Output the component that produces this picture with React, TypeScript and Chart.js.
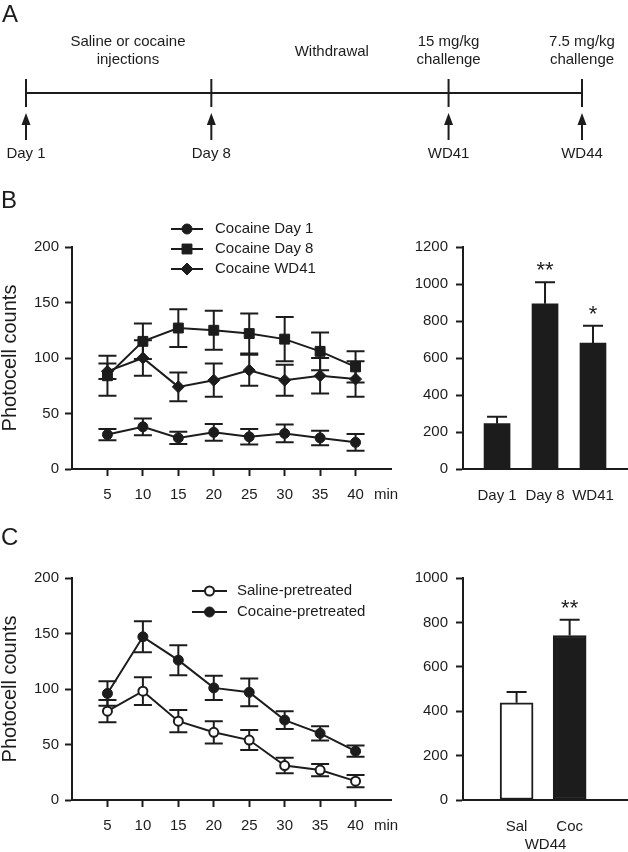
import React, { useEffect, useRef } from 'react';
import { Chart, registerables } from 'chart.js';

Chart.register(...registerables);

const FONT = '"Liberation Sans", Arial, Helvetica, sans-serif';
const INK = '#1c1c1c';
Chart.defaults.font.family = FONT;
Chart.defaults.font.size = 15;
Chart.defaults.color = INK;

// ---------- Panel A: timeline ----------
const timelineEvents = ['Day 1', 'Day 8', 'WD41', 'WD44'];
const timelineSlots = [0, 1, 2.28, 3];
const phaseSlots = [0.55, 1.65, 2.28, 3];
const phaseTexts = [['Saline or cocaine', 'injections'], ['Withdrawal'], ['15 mg/kg', 'challenge'], ['7.5 mg/kg', 'challenge']];

// ---------- Panel B ----------
const minutes = [5, 10, 15, 20, 25, 30, 35, 40];
const bSeriesNames = ['Cocaine Day 1', 'Cocaine Day 8', 'Cocaine WD41'];
const cocaineDay1 = [31, 38, 28, 33, 29, 32, 28, 24];
const cocaineDay1Sem = [5, 7.5, 5.5, 7.5, 7, 8, 6.5, 7.5];
const cocaineDay8 = [84, 115, 127, 125, 122, 117, 106, 92];
const cocaineDay8Sem = [18, 16, 17, 17.5, 18, 20, 17, 14];
const cocaineWD41 = [88, 100, 74, 80, 89, 80, 84, 81];
const cocaineWD41Sem = [7, 16, 13, 15, 14, 14, 16, 16];
const bBarCategories = ['Day 1', 'Day 8', 'WD41'];
const bBarTotals = [245, 893, 681];
const bBarSem = [38, 116, 94];
const bBarSignif = ['', '**', '*'];

// ---------- Panel C ----------
const cSeriesNames = ['Saline-pretreated', 'Cocaine-pretreated'];
const salinePre = [80, 98, 71, 61, 54, 31, 27, 17];
const salinePreSem = [10, 12.5, 10, 10, 9, 7, 5.5, 5.5];
const cocainePre = [96, 147, 126, 101, 97, 72, 60, 44];
const cocainePreSem = [11, 14, 13.5, 11, 12.5, 8, 6.5, 5];
const cBarCategories = ['Sal', 'Coc'];
const cBarTotals = [438, 741];
const cBarSem = [48, 71];
const cBarSignif = ['', '**'];
const cBarGroup = 'WD44';

const yTitle = 'Photocell counts';
const xUnit = 'min';

// ---------- plugins ----------
function drawMarker(ctx: any, style: string, x: number, y: number, r: number, fill: string, bw: number) {
  ctx.save();
  ctx.beginPath();
  if (style === 'rect') {
    const s = r * Math.SQRT1_2;
    ctx.rect(x - s, y - s, 2 * s, 2 * s);
  } else if (style === 'rectRot') {
    ctx.moveTo(x, y - r);
    ctx.lineTo(x + r, y);
    ctx.lineTo(x, y + r);
    ctx.lineTo(x - r, y);
    ctx.closePath();
  } else {
    ctx.arc(x, y, r, 0, Math.PI * 2);
  }
  ctx.fillStyle = fill;
  ctx.fill();
  ctx.lineWidth = bw;
  ctx.strokeStyle = INK;
  ctx.stroke();
  ctx.restore();
}

const errorBars = {
  id: 'errorBars',
  beforeDatasetsDraw(chart: any) {
    const { ctx } = chart;
    chart.data.datasets.forEach((ds: any, di: number) => {
      if (!ds.sem) return;
      const meta = chart.getDatasetMeta(di);
      const ys = chart.scales[meta.yAxisID];
      const half = ds.capHalf ?? 9;
      ctx.save();
      ctx.strokeStyle = INK;
      ctx.lineWidth = 2;
      meta.data.forEach((el: any, i: number) => {
        const v = ds.data[i].y;
        const e = ds.sem[i];
        const yt = ys.getPixelForValue(v + e);
        const yb = ys.getPixelForValue(ds.semUpOnly ? v : v - e);
        const x = el.x;
        ctx.beginPath();
        ctx.moveTo(x, yt);
        ctx.lineTo(x, yb);
        ctx.moveTo(x - half, yt);
        ctx.lineTo(x + half, yt);
        if (!ds.semUpOnly) {
          ctx.moveTo(x - half, yb);
          ctx.lineTo(x + half, yb);
        }
        ctx.stroke();
      });
      ctx.restore();
    });
  },
};

const signifMarks = {
  id: 'signifMarks',
  afterDatasetsDraw(chart: any) {
    const { ctx } = chart;
    chart.data.datasets.forEach((ds: any, di: number) => {
      if (!ds.signif) return;
      const meta = chart.getDatasetMeta(di);
      const ys = chart.scales[meta.yAxisID];
      ctx.save();
      ctx.fillStyle = INK;
      ctx.font = `22px ${FONT}`;
      ctx.textAlign = 'center';
      ctx.textBaseline = 'middle';
      meta.data.forEach((el: any, i: number) => {
        const mark = ds.signif[i];
        if (!mark) return;
        const top = ys.getPixelForValue(ds.data[i].y + ds.sem[i]);
        ctx.fillText(mark, el.x, top - 11);
      });
      ctx.restore();
    });
  },
};

const unitLabel = {
  id: 'unitLabel',
  afterDraw(chart: any, _a: any, opts: any) {
    if (!opts || !opts.text) return;
    const { ctx } = chart;
    const xs = chart.scales.x;
    ctx.save();
    ctx.fillStyle = INK;
    ctx.font = `15px ${FONT}`;
    ctx.textAlign = 'center';
    ctx.textBaseline = 'middle';
    ctx.fillText(opts.text, xs.getPixelForValue(opts.at), xs.top + 26);
    ctx.restore();
  },
};

const miniLegend = {
  id: 'miniLegend',
  afterDraw(chart: any, _a: any, opts: any) {
    if (!opts || opts.dy === undefined) return;
    const { ctx, chartArea } = chart;
    ctx.save();
    chart.data.datasets.forEach((ds: any, i: number) => {
      const y = chartArea.top + opts.dy + i * opts.gap;
      const x1 = chartArea.left + opts.lineFrom;
      const x2 = chartArea.left + opts.lineTo;
      ctx.beginPath();
      ctx.strokeStyle = INK;
      ctx.lineWidth = 2;
      ctx.moveTo(x1, y);
      ctx.lineTo(x2, y);
      ctx.stroke();
      drawMarker(ctx, ds.pointStyle, chartArea.left + opts.marker, y, ds.pointRadius, ds.pointBackgroundColor, ds.pointBorderWidth);
      ctx.fillStyle = INK;
      ctx.font = `15px ${FONT}`;
      ctx.textAlign = 'left';
      ctx.textBaseline = 'middle';
      ctx.fillText(ds.label, chartArea.left + opts.text, y);
    });
    ctx.restore();
  },
};

const timelineDecor = {
  id: 'timelineDecor',
  afterDatasetsDraw(chart: any) {
    const { ctx } = chart;
    const xs = chart.scales.x;
    const y0 = chart.scales.y.getPixelForValue(0);
    const meta = chart.getDatasetMeta(0);
    ctx.save();
    ctx.fillStyle = INK;
    ctx.strokeStyle = INK;
    ctx.lineWidth = 2;
    ctx.font = `15px ${FONT}`;
    ctx.textAlign = 'center';
    ctx.textBaseline = 'middle';
    meta.data.forEach((el: any, i: number) => {
      const x = el.x;
      ctx.beginPath();
      ctx.moveTo(x, y0 + 28);
      ctx.lineTo(x, y0 + 47);
      ctx.stroke();
      ctx.beginPath();
      ctx.moveTo(x, y0 + 20);
      ctx.lineTo(x - 4.5, y0 + 32);
      ctx.lineTo(x + 4.5, y0 + 32);
      ctx.closePath();
      ctx.fill();
      ctx.fillText(timelineEvents[i], x, y0 + 61);
    });
    phaseSlots.forEach((s, i) => {
      const x = xs.getPixelForValue(s);
      const lines = phaseTexts[i];
      if (lines.length === 1) {
        ctx.fillText(lines[0], x, y0 - 41);
      } else {
        lines.forEach((t, k) => ctx.fillText(t, x, y0 - 51 + k * 18));
      }
    });
    ctx.restore();
  },
};

// ---------- config builders ----------
function yAxis(max: number, step: number, width: number, pad: number, title?: string) {
  return {
    type: 'linear',
    min: 0,
    max,
    ticks: { stepSize: step, padding: pad, color: INK, font: { size: 15 }, callback: (v: any) => String(v) },
    grid: { display: true, drawOnChartArea: false, drawTicks: true, tickLength: 7, tickWidth: 2, tickColor: INK },
    border: { display: true, color: INK, width: 2 },
    title: title
      ? { display: true, text: title, color: INK, font: { size: 20, lineHeight: 1 }, padding: 0 }
      : { display: false },
    afterFit: (s: any) => {
      s.width = width;
    },
  };
}

function minuteAxis(height: number) {
  return {
    type: 'linear',
    min: 0,
    max: 45,
    offset: false,
    afterBuildTicks: (s: any) => {
      s.ticks = minutes.map((v) => ({ value: v }));
    },
    ticks: { autoSkip: false, maxRotation: 0, padding: 10, color: INK, font: { size: 15 }, callback: (v: any) => String(v) },
    grid: { display: true, drawOnChartArea: false, drawTicks: true, tickLength: 7, tickWidth: 2, tickColor: INK },
    border: { display: true, color: INK, width: 2 },
    afterFit: (s: any) => {
      s.height = height;
    },
  };
}

function categoryAxis(cats: string[], min: number, max: number, height: number, title?: string) {
  return {
    type: 'linear',
    min,
    max,
    offset: false,
    afterBuildTicks: (s: any) => {
      s.ticks = cats.map((_, i) => ({ value: i + 1 }));
    },
    ticks: {
      autoSkip: false,
      maxRotation: 0,
      padding: 10,
      color: INK,
      font: { size: 15 },
      callback: (v: any) => cats[Math.round(v) - 1] ?? '',
    },
    grid: { display: false },
    border: { display: true, color: INK, width: 2 },
    title: title
      ? { display: true, text: title, color: INK, font: { size: 15, lineHeight: 1 }, padding: 0 }
      : { display: false },
    afterFit: (s: any) => {
      s.height = height;
    },
  };
}

function lineDs(label: string, ys: number[], sem: number[], style: string, r: number, fill: string, bw: number) {
  return {
    label,
    data: minutes.map((x, i) => ({ x, y: ys[i] })),
    sem,
    capHalf: 9,
    borderColor: INK,
    borderWidth: 2,
    tension: 0,
    clip: false,
    pointStyle: style,
    pointRadius: r,
    pointHoverRadius: r,
    pointBackgroundColor: fill,
    pointBorderColor: INK,
    pointBorderWidth: bw,
    pointHoverBorderWidth: bw,
  };
}

const baseOptions = {
  responsive: true,
  maintainAspectRatio: false,
  animation: false,
  events: [],
};

function timelineConfig() {
  return {
    type: 'line',
    data: {
      datasets: [
        {
          data: timelineSlots.map((x) => ({ x, y: 0 })),
          borderColor: INK,
          borderWidth: 2,
          clip: false,
          pointStyle: 'line',
          pointRotation: 90,
          pointRadius: 14,
          pointHoverRadius: 14,
          pointBorderWidth: 2,
          pointBorderColor: INK,
        },
      ],
    },
    options: {
      ...baseOptions,
      layout: { padding: { left: 26, right: 46, top: 0, bottom: 0 } },
      scales: {
        x: { type: 'linear', display: false, min: 0, max: 3 },
        y: { type: 'linear', display: false, min: -1, max: 1 },
      },
      plugins: { legend: { display: false }, tooltip: { enabled: false } },
    },
    plugins: [timelineDecor],
  };
}

function bLineConfig() {
  return {
    type: 'line',
    data: {
      datasets: [
        lineDs(bSeriesNames[0], cocaineDay1, cocaineDay1Sem, 'circle', 5, INK, 1),
        lineDs(bSeriesNames[1], cocaineDay8, cocaineDay8Sem, 'rect', 7, INK, 1),
        lineDs(bSeriesNames[2], cocaineWD41, cocaineWD41Sem, 'rectRot', 6, INK, 1),
      ],
    },
    options: {
      ...baseOptions,
      layout: { padding: { left: 0, right: 13, top: 77, bottom: 0 } },
      scales: { x: minuteAxis(41), y: yAxis(200, 50, 72, 6, yTitle) },
      plugins: {
        legend: { display: false },
        tooltip: { enabled: false },
        unitLabel: { text: xUnit, at: 44.3 },
        miniLegend: { dy: -18, gap: 20, lineFrom: 99, lineTo: 131, marker: 115, text: 143 },
      },
    },
    plugins: [errorBars, unitLabel, miniLegend],
  };
}

function bBarConfig() {
  return {
    type: 'bar',
    data: {
      datasets: [
        {
          data: bBarCategories.map((_, i) => ({ x: i + 1, y: bBarTotals[i] })),
          sem: bBarSem,
          semUpOnly: true,
          capHalf: 10,
          signif: bBarSignif,
          backgroundColor: INK,
          borderColor: INK,
          borderWidth: 0,
          barThickness: 26,
        },
      ],
    },
    options: {
      ...baseOptions,
      layout: { padding: { left: 0, right: 0, top: 77, bottom: 0 } },
      scales: { x: categoryAxis(bBarCategories, 0.29, 3.73, 41), y: yAxis(1200, 200, 59, 8) },
      plugins: { legend: { display: false }, tooltip: { enabled: false } },
    },
    plugins: [errorBars, signifMarks],
  };
}

function cLineConfig() {
  return {
    type: 'line',
    data: {
      datasets: [
        lineDs(cSeriesNames[0], salinePre, salinePreSem, 'circle', 4.5, '#ffffff', 2),
        lineDs(cSeriesNames[1], cocainePre, cocainePreSem, 'circle', 5, INK, 1),
      ],
    },
    options: {
      ...baseOptions,
      layout: { padding: { left: 0, right: 13, top: 78, bottom: 0 } },
      scales: { x: minuteAxis(52), y: yAxis(200, 50, 72, 6, yTitle) },
      plugins: {
        legend: { display: false },
        tooltip: { enabled: false },
        unitLabel: { text: xUnit, at: 44.3 },
        miniLegend: { dy: 13, gap: 21, lineFrom: 120, lineTo: 155, marker: 137.5, text: 165 },
      },
    },
    plugins: [errorBars, unitLabel, miniLegend],
  };
}

function cBarConfig() {
  return {
    type: 'bar',
    data: {
      datasets: [
        {
          data: cBarCategories.map((_, i) => ({ x: i + 1, y: cBarTotals[i] })),
          sem: cBarSem,
          semUpOnly: true,
          capHalf: 10,
          signif: cBarSignif,
          backgroundColor: ['#ffffff', INK],
          borderColor: INK,
          borderWidth: 2,
          borderSkipped: false,
          barThickness: 33,
        },
      ],
    },
    options: {
      ...baseOptions,
      layout: { padding: { left: 0, right: 0, top: 78, bottom: 0 } },
      scales: { x: categoryAxis(cBarCategories, -0.01, 3.1, 52, cBarGroup), y: yAxis(1000, 200, 59, 8) },
      plugins: { legend: { display: false }, tooltip: { enabled: false } },
    },
    plugins: [errorBars, signifMarks],
  };
}

function ChartCanvas({ box, config }: { box: number[]; config: () => any }) {
  const ref = useRef<HTMLCanvasElement>(null);
  useEffect(() => {
    const chart = new Chart(ref.current as HTMLCanvasElement, config());
    return () => chart.destroy();
  }, []);
  return (
    <div style={{ position: 'absolute', left: box[0], top: box[1], width: box[2], height: box[3] }}>
      <canvas ref={ref} />
    </div>
  );
}

const letterStyle: React.CSSProperties = {
  position: 'absolute',
  fontFamily: FONT,
  fontSize: 24,
  lineHeight: '24px',
  color: INK,
};

export default function App() {
  return (
    <div style={{ position: 'absolute', left: 0, top: 0, width: 628, height: 852, background: '#fff', overflow: 'hidden' }}>
      <ChartCanvas box={[0, 16, 628, 154]} config={timelineConfig} />
      <ChartCanvas box={[0, 170, 404, 340]} config={bLineConfig} />
      <ChartCanvas box={[404, 170, 224, 340]} config={bBarConfig} />
      <ChartCanvas box={[0, 500, 404, 352]} config={cLineConfig} />
      <ChartCanvas box={[404, 500, 224, 352]} config={cBarConfig} />
      <div style={{ ...letterStyle, left: 2, top: 2 }}>A</div>
      <div style={{ ...letterStyle, left: 1, top: 188 }}>B</div>
      <div style={{ ...letterStyle, left: 1, top: 525 }}>C</div>
    </div>
  );
}
